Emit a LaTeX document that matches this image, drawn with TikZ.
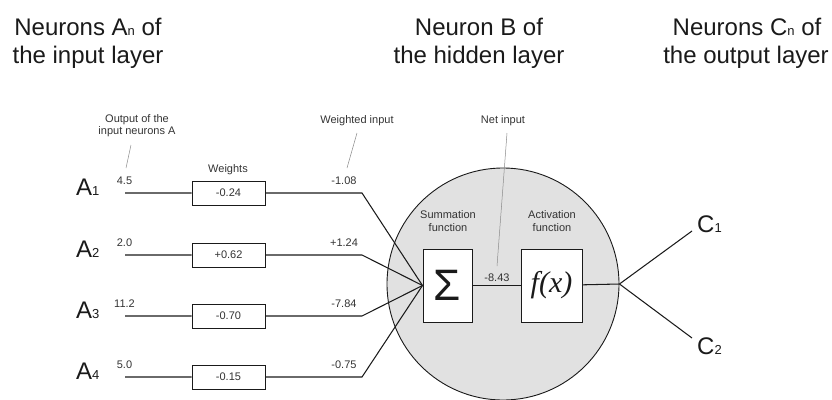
\documentclass[tikz,border=0pt]{standalone}
\usepackage{fontspec}
\setmainfont{Liberation Sans}
\newfontfamily\serifit{Liberation Serif}
\definecolor{ink}{HTML}{1A1A1A}
\definecolor{soft}{HTML}{333333}
\definecolor{leader}{HTML}{8A8A8A}
\definecolor{cellgrey}{HTML}{E1E1E1}
\newcommand{\bigfont}{\fontsize{24}{28}\selectfont}
\newcommand{\smallfont}{\fontsize{11}{13}\selectfont}
\newcommand{\idx}[1]{{\fontsize{13}{13}\selectfont #1}}
\begin{document}
\begin{tikzpicture}[x=1pt,y=-1pt,
  title/.style={anchor=base,inner sep=0pt,text=ink,font=\bigfont},
  lbl/.style={anchor=base,inner sep=0pt,text=soft,font=\smallfont},
  unit/.style={anchor=base west,inner sep=0pt,text=ink,font=\bigfont},
  wbox/.style={draw=ink,line width=1pt,fill=white,minimum width=73pt,minimum height=24pt,inner sep=0pt,text=soft,font=\smallfont},
  fbox/.style={draw=ink,line width=1pt,fill=white,minimum height=73pt,inner sep=0pt,text=ink},
  wire/.style={draw=ink,line width=1.05pt},
  pointer/.style={draw=leader,line width=0.5pt}]
\useasboundingbox (0,0) rectangle (832,399);

% layer titles
\node[title] (t1a) at (88,35) {Neurons A\idx{n} of};
\node[title] (t1b) at (88,63) {the input layer};
\node[title] (t2a) at (479,35) {Neuron B of};
\node[title] (t2b) at (479,63) {the hidden layer};
\node[title] (t3a) at (747,35) {Neurons C\idx{n} of};
\node[title] (t3b) at (746,63) {the output layer};

% hidden neuron body
\node[circle,draw=ink,line width=0.9pt,fill=cellgrey,minimum size=232pt,inner sep=0pt] (neuron) at (503,284) {};

% summation and activation blocks
\node[fbox,minimum width=49pt] (sum) at (447.5,285.5) {\fontsize{44}{44}\selectfont Σ};
\node[fbox,minimum width=61pt] (act) at (551.5,285.5) {\fontsize{30}{30}\selectfont\serifit\itshape f(x)};
\node[lbl] (suml1) at (448,218) {Summation};
\node[lbl] (suml2) at (448,231) {function};
\node[lbl] (actl1) at (552,218) {Activation};
\node[lbl] (actl2) at (552,231) {function};
\node[lbl] (net) at (497,281) {-8.43};

% input rows: neuron label, output value, weight box, weighted input
\foreach \i/\y/\o/\w/\p in {1/193/4.5/-0.24/-1.08, 2/255/2.0/+0.62/+1.24, 3/316/11.2/-0.70/-7.84, 4/377/5.0/-0.15/-0.75}{
  \node[unit] (a\i) at (76,\y+2) {A\idx{\i}};
  \node[lbl] (o\i) at (124.5,\y-9) {\o};
  \node[lbl] (p\i) at (344,\y-9) {\p};
  \coordinate (in\i) at (125,\y);
  \coordinate (bend\i) at (362,\y);
  \node[wbox] (w\i) at (228.5,\y) {\w};
  \draw[wire] (in\i) -- (w\i) -- (bend\i) -- (sum.west);
}

% connection between the two blocks and to the output layer
\draw[wire] (sum) -- (act);
\draw[wire] (act) -- (neuron.east);
\coordinate (c1end) at (692,231);
\coordinate (c2end) at (692,338);
\draw[wire] (neuron.east) -- (c1end);
\draw[wire] (neuron.east) -- (c2end);
\node[unit] (c1) at (697,232) {C\idx{1}};
\node[unit] (c2) at (697,354) {C\idx{2}};

% annotations with leader lines
\node[lbl] (outlbl1) at (137,122) {Output of the};
\node[lbl] (outlbl2) at (137,134) {input neurons A};
\coordinate (outtip) at (126,168);
\draw[pointer] (131,145) -- (outtip);
\node[lbl] (wlbl) at (228,172) {Weights};
\node[lbl] (wilbl) at (357,123) {Weighted input};
\coordinate (witip) at (347,168);
\draw[pointer] (357,133) -- (witip);
\node[lbl] (nilbl) at (503,123) {Net input};
\coordinate (nettip) at (497,266);
\draw[pointer] (507,133) -- (nettip);
\end{tikzpicture}
\end{document}
